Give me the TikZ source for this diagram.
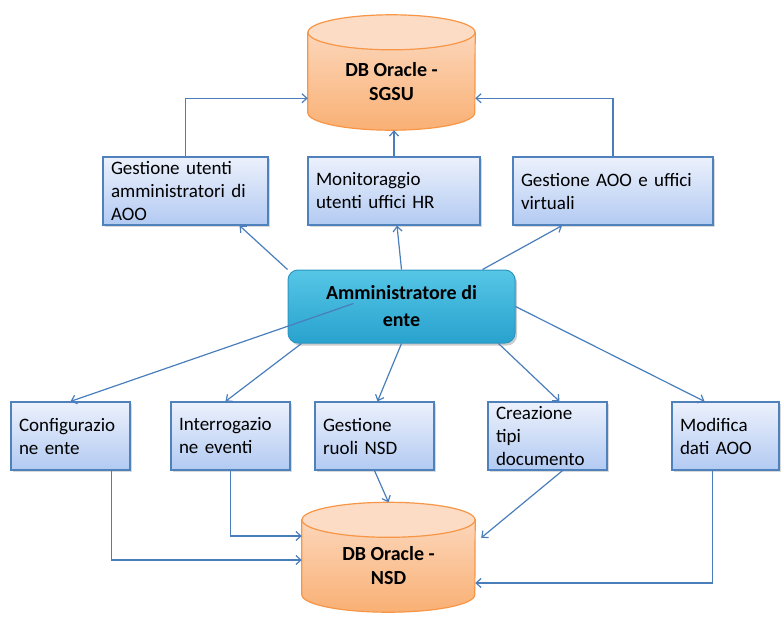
\documentclass[tikz,border=0pt]{standalone}
\usepackage{fontspec}
\setmainfont{Carlito}
\usetikzlibrary{arrows.meta,calc,shadows}
\definecolor{linkblue}{RGB}{74,126,187}
\definecolor{boxline}{RGB}{79,129,189}
\definecolor{boxtop}{RGB}{236,241,252}
\definecolor{boxbot}{RGB}{178,202,242}
\definecolor{dbline}{RGB}{247,150,70}
\definecolor{dbtop}{RGB}{252,214,186}
\definecolor{dbbot}{RGB}{249,176,116}
\definecolor{dbcap}{RGB}{252,220,196}
\definecolor{admtop}{RGB}{86,198,230}
\definecolor{admbot}{RGB}{40,162,206}
\definecolor{admline}{RGB}{45,150,192}
\pgfdeclarelayer{bg}
\pgfsetlayers{bg,main}
\tikzset{
  box/.style={draw=boxline, line width=1.2pt, top color=boxtop, bottom color=boxbot,
    align=left, inner xsep=8pt, inner ysep=1pt, minimum height=68pt,
    font=\fontsize{19}{23}\selectfont,
    drop shadow={opacity=0.3, shadow xshift=1.5pt, shadow yshift=-1.5pt}},
  admin/.style={draw=admline, line width=1pt, top color=admtop, bottom color=admbot,
    rounded corners=10pt, align=center, minimum width=227pt, minimum height=73pt,
    font=\bfseries\fontsize{20}{27}\selectfont,
    drop shadow={opacity=0.4, shadow xshift=2pt, shadow yshift=-2.5pt}},
  dbtext/.style={align=center, inner sep=0pt, font=\bfseries\fontsize{20}{24}\selectfont},
  cyl/.style={draw=dbline, line width=1.2pt},
  link/.style={draw=linkblue, line width=1.2pt, -{Straight Barb[length=5pt,width=9pt]}},
}
\begin{document}
\begin{tikzpicture}[x=1pt, y=-1pt]
\useasboundingbox (0,0) rectangle (781,616);

% databases
\node[dbtext, minimum width=167pt, minimum height=97.5pt] (sgsu) at (391.5,81.25) {DB Oracle -\\SGSU};
\node[dbtext, minimum width=173pt, minimum height=92pt] (nsd) at (388.5,566) {DB Oracle -\\NSD};
\begin{pgfonlayer}{bg}
  \draw[cyl, top color=dbtop, bottom color=dbbot] (sgsu.north west) -- ($(sgsu.south west)+(0,-17.5)$)
    arc[start angle=180, end angle=0, x radius=83.5, y radius=17.5] -- (sgsu.north east) -- cycle;
  \draw[cyl, fill=dbcap] (sgsu.north) ellipse[x radius=83.5, y radius=17.5];
  \draw[cyl, top color=dbtop, bottom color=dbbot] (nsd.north west) -- ($(nsd.south west)+(0,-17.5)$)
    arc[start angle=180, end angle=0, x radius=86.5, y radius=17.5] -- (nsd.north east) -- cycle;
  \draw[cyl, fill=dbcap] (nsd.north) ellipse[x radius=86.5, y radius=17.5];
\end{pgfonlayer}

% upper boxes
\node[box, text width=149pt] (ge1) at (185.5,191) {Gestione utenti\\amministratori di\\AOO};
\node[box, text width=156pt] (mon) at (394,191) {Monitoraggio\\utenti uffici HR};
\node[box, text width=184pt] (aoo) at (613,191) {Gestione AOO e uffici\\virtuali};

\node[admin] (admin) at (401.5,306.5) {Amministratore di\\ente};

% lower boxes
\node[box, text width=103pt] (cfg) at (70.5,436) {Configurazio\\ne ente};
\node[box, text width=103pt] (evt) at (230.5,436) {Interrogazio\\ne eventi};
\node[box, text width=103pt] (ruoli) at (374.5,436) {Gestione\\ruoli NSD};
\node[box, text width=103pt] (doc) at (547.5,436) {Creazione\\tipi\\documento};
\node[box, text width=91pt] (mod) at (725.5,436) {Modifica\\dati AOO};

% links to SGSU
\draw[link] (ge1.north) |- ($(sgsu.west)+(0,17)$);
\draw[link] (mon.north) -- (mon.north |- sgsu.south);
\draw[link] (aoo.north) |- ($(sgsu.east)+(0,17)$);

% links from the administrator
\draw[link] (admin.north west) -- ($(ge1.south)+(54,0)$);
\draw[link] (admin.north) -- ($(mon.south)+(3,0)$);
\draw[link] ($(admin.north east)+(-33,0)$) -- ($(aoo.south)+(-51,0)$);
\draw[link] ($(admin.center)+(-48,-3)$) -- (cfg.north);
\draw[link] ($(admin.south west)+(14,0)$) -- ($(evt.north)+(-5,0)$);
\draw[link] (admin.south) -- ($(ruoli.north)+(3,0)$);
\draw[link] ($(admin.south east)+(-17,0)$) -- ($(doc.north)+(12,0)$);
\draw[link] (admin.east) -- ($(mod.north)+(-21,0)$);

% links to NSD
\draw[link] ($(cfg.south east)+(-19,0)$) |- ($(nsd.west)+(0,-6)$);
\draw[link] (evt.south) |- ($(nsd.west)+(0,-30)$);
\draw[link] (ruoli.south) -- ($(nsd.north)+(0,-17.5)$);
\draw[link] ($(doc.south)+(15,0)$) -- ($(nsd.north east)+(6,18)$);
\draw[link] ($(mod.south)+(-13,0)$) |- ($(nsd.east)+(0,17)$);
\end{tikzpicture}
\end{document}
